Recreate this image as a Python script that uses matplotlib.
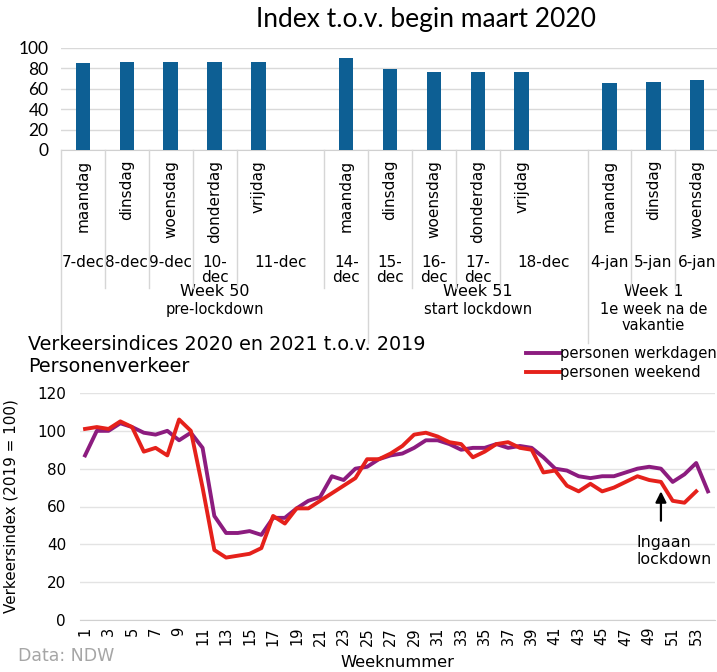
import matplotlib
matplotlib.use("Agg")
import matplotlib.pyplot as plt
import matplotlib.transforms as mtransforms
from matplotlib.lines import Line2D

W, H = 717, 672

BAR_BLUE = "#0d5f94"
PURPLE = "#8c1c7f"
RED = "#e5211b"
GRID = "#e3e3e3"

# top chart: index t.o.v. begin maart 2020 (one slot per category, "" = empty slot)
day_names = ["maandag", "dinsdag", "woensdag", "donderdag", "vrijdag", "",
             "maandag", "dinsdag", "woensdag", "donderdag", "vrijdag", "",
             "maandag", "dinsdag", "woensdag"]
bar_values = [85, 86, 86, 86, 86, None, 90, 79, 76, 76, 76, None, 66, 67, 69]
date_labels = ["7-dec", "8-dec", "9-dec", "10-\ndec", "11-dec", "14-\ndec",
               "15-\ndec", "16-\ndec", "17-\ndec", "18-dec",
               "4-jan", "5-jan", "6-jan"]
date_spans = [(0, 0), (1, 1), (2, 2), (3, 3), (4, 5), (6, 6),
              (7, 7), (8, 8), (9, 9), (10, 11),
              (12, 12), (13, 13), (14, 14)]
week_titles = ["Week 50", "Week 51", "Week 1"]
week_subtitles = ["pre-lockdown", "start lockdown", "1e week na de\nvakantie"]
week_spans = [(0, 6), (7, 11), (12, 14)]

# bottom chart: verkeersindices per week
weeks = list(range(1, 55))
werkdagen = [87, 100, 100, 104, 102, 99, 98, 100, 95, 99,
             91, 55, 46, 46, 47, 45, 54, 54, 59, 63,
             65, 76, 74, 80, 81, 85, 87, 88, 91, 95,
             95, 93, 90, 91, 91, 93, 91, 92, 91, 86,
             80, 79, 76, 75, 76, 76, 78, 80, 81, 80,
             73, 77, 83, 68]
weekend = [101, 102, 101, 105, 102, 89, 91, 87, 106, 100,
           70, 37, 33, 34, 35, 38, 55, 51, 59, 59,
           63, 67, 71, 75, 85, 85, 88, 92, 98, 99,
           97, 94, 93, 86, 89, 93, 94, 91, 90, 78,
           79, 71, 68, 72, 68, 70, 73, 76, 74, 73,
           63, 62, 68]


def fy(px):
    return 1 - px / H


fig = plt.figure(figsize=(W / 100, H / 100), dpi=100)

# ---------------- top chart ----------------
ax1 = fig.add_axes([61 / W, fy(150), (717 - 61) / W, 102 / H])
xs = [i for i, v in enumerate(bar_values) if v is not None]
vals = [v for v in bar_values if v is not None]
ax1.bar(xs, vals, width=0.33, color=BAR_BLUE, zorder=3)
ax1.set_xlim(-0.5, 14.45)
ax1.set_ylim(0, 100)
ax1.set_yticks(range(0, 101, 20))
ax1.set_xticks([])
ax1.grid(axis="y", color="#d9d9d9", lw=1)
for s in ["top", "right", "left"]:
    ax1.spines[s].set_visible(False)
ax1.spines["bottom"].set_color("#d0d0d0")
ax1.tick_params(axis="y", length=0, pad=9, labelsize=12.5)
for lab in ax1.get_yticklabels():
    lab.set_fontfamily("Lato")

fig.text(425.5 / W, fy(20), "Index t.o.v. begin maart 2020", ha="center",
         va="center", fontsize=19, family="Lato")

trans = mtransforms.blended_transform_factory(ax1.transData, fig.transFigure)

for i, name in enumerate(day_names):
    if name:
        ax1.text(i, fy(160), name, transform=trans, rotation=90, ha="center",
                 va="top", fontsize=11)

for lab, (a, b) in zip(date_labels, date_spans):
    ax1.text((a + b) / 2, fy(255), lab, transform=trans, ha="center",
             va="top", fontsize=11, linespacing=1.0)

week_edges = [a - 0.5 for a, b in week_spans]
for a, b in date_spans:
    edge = b + 0.5
    if edge in week_edges or edge > 14:
        continue
    fig.add_artist(Line2D([edge, edge], [fy(150), fy(288)], transform=trans,
                          color="#d6d6d6", lw=1))
for edge in week_edges:
    fig.add_artist(Line2D([edge, edge], [fy(150), fy(343)], transform=trans,
                          color="#d6d6d6", lw=1))

for t, sub, (a, b) in zip(week_titles, week_subtitles, week_spans):
    xc = (a + b) / 2
    ax1.text(xc, fy(284), t, transform=trans, ha="center", va="top",
             fontsize=11.5, linespacing=1.0)
    ax1.text(xc, fy(302), sub, transform=trans, ha="center", va="top",
             fontsize=10.5, linespacing=1.05)

# ---------------- bottom chart ----------------
ax2 = fig.add_axes([80 / W, fy(620), 635 / W, 227 / H])
ax2.plot(weeks, werkdagen, color=PURPLE, lw=2.8, solid_joinstyle="round",
         label="personen werkdagen", zorder=3)
ax2.plot(weeks[:len(weekend)], weekend, color=RED, lw=2.8,
         solid_joinstyle="round", label="personen weekend", zorder=4)
ax2.set_xlim(0.57, 54.6)
ax2.set_ylim(0, 120)
ax2.set_yticks(range(0, 121, 20))
ax2.set_xticks(range(1, 54, 2))
ax2.tick_params(axis="x", length=0, pad=5, labelsize=10.5, labelrotation=90)
ax2.tick_params(axis="y", length=0, pad=10, labelsize=11)
ax2.grid(axis="y", color=GRID, lw=1)
for s in ["top", "right", "left"]:
    ax2.spines[s].set_visible(False)
ax2.spines["bottom"].set_color("#d0d0d0")

ax2.set_ylabel("Verkeersindex (2019 = 100)", fontsize=10.9)
ax2.yaxis.set_label_coords(-0.097, 0.5)
ax2.set_xlabel("Weeknummer", fontsize=11.7)
ax2.xaxis.set_label_coords(0.5, -0.155)

fig.text(28 / W, fy(344), "Verkeersindices 2020 en 2021 t.o.v. 2019",
         va="center", fontsize=13.8)
fig.text(28 / W, fy(367), "Personenverkeer", va="center", fontsize=13.8)

ax2.legend(loc="upper right", bbox_to_anchor=(1.0, fy(346)),
           bbox_transform=fig.transFigure, frameon=False, handlelength=2.3,
           handletextpad=0.05, borderpad=0, borderaxespad=0,
           labelspacing=0.25, fontsize=10.6)

ax2.annotate("", xy=(50, 69.5), xytext=(50, 51),
             arrowprops=dict(arrowstyle="-|>", color="black", lw=1.6,
                             mutation_scale=16))
ax2.text(47.95, 45, "Ingaan\nlockdown", ha="left", va="top",
         fontsize=11.4, linespacing=1.15)

fig.text(18 / W, fy(656), "Data: NDW", color="#a6a6a6", fontsize=12.5,
         va="center")

fig.savefig("out.png", dpi=100)
